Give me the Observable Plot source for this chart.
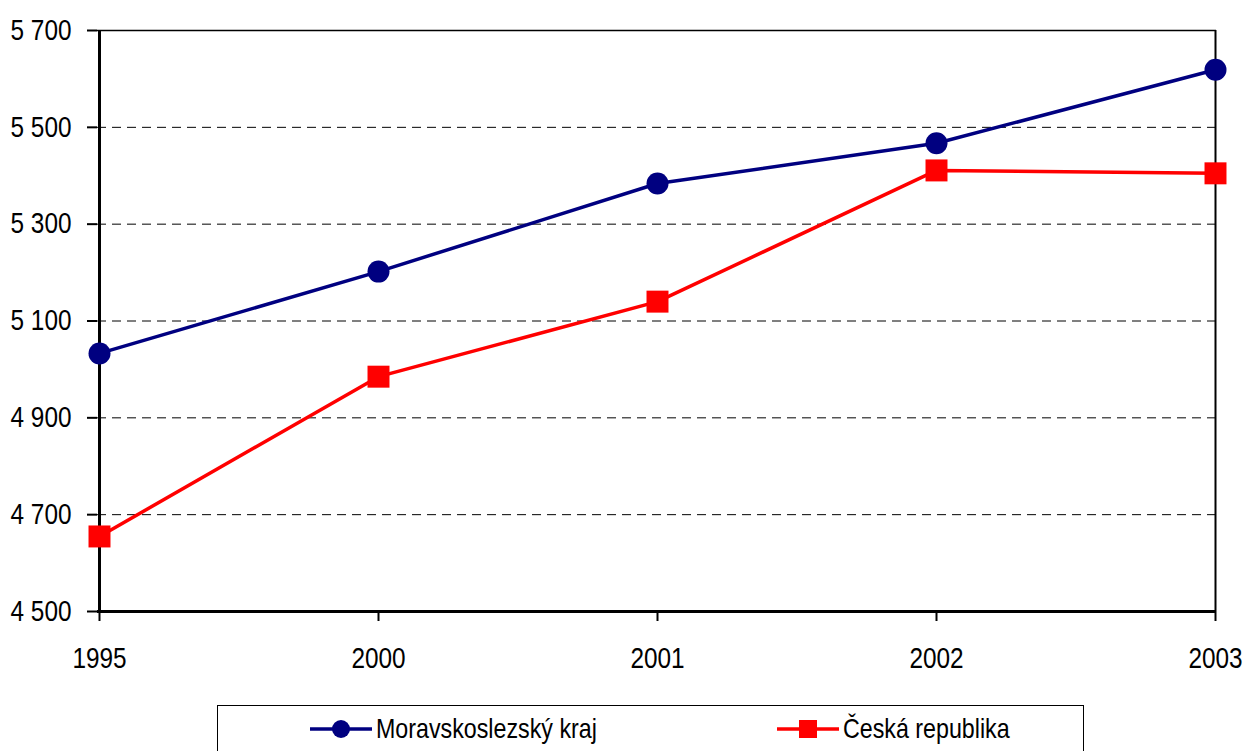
<!DOCTYPE html>
<html>
<head>
<meta charset="utf-8">
<script src="https://cdn.jsdelivr.net/npm/d3@7"></script>
<script src="https://cdn.jsdelivr.net/npm/@observablehq/plot@0.6"></script>
<style>
  html, body { margin: 0; padding: 0; background: #fff; overflow: hidden; }
  body { width: 1246px; height: 751px; position: relative;
         font-family: "Liberation Sans", Arial, sans-serif; }
  #legend { position: absolute; left: 217px; top: 705px; width: 867px; height: 60px;
            border: 1px solid #000; box-sizing: border-box; background: #fff; }
  .item { position: absolute; top: 7px; display: flex; align-items: center; font-size: 28px; color: #000; white-space: nowrap; }
  .item svg { margin-right: 4px; flex: none; }
  .item span { display: inline-block; transform: scaleX(0.83); transform-origin: left center; }
</style>
</head>
<body>
<div id="chart"></div>
<div id="legend"></div>
<script>
const years = ["1995", "2000", "2001", "2002", "2003"];
const moravskoslezsky = [5033, 5202, 5384, 5467, 5619];
const ceskaRepublika = [4655, 4985, 5140, 5411, 5405];
const seriesNames = ["Moravskoslezský kraj", "Česká republika"];
const seriesColors = ["#000080", "#FF0000"];
const yTicks = [4500, 4700, 4900, 5100, 5300, 5500, 5700];
const gridTicks = [4700, 4900, 5100, 5300, 5500];

const data = [
  ...years.map((y, i) => ({year: y, value: moravskoslezsky[i], series: seriesNames[0]})),
  ...years.map((y, i) => ({year: y, value: ceskaRepublika[i], series: seriesNames[1]}))
];
const fmt = v => d3.format(",")(v).replace(/,/g, " ");

const font = '"Liberation Sans", Arial, sans-serif';

const chart = Plot.plot({
  width: 1246,
  height: 690,
  marginLeft: 97,
  marginRight: 30,
  marginTop: 30,
  marginBottom: 79,
  style: {fontFamily: font, fontSize: "29px", color: "#000", background: "#fff", overflow: "visible"},
  x: {type: "point", domain: years, padding: 0, axis: null},
  y: {domain: [4500, 5700], axis: null},
  marks: [
    Plot.ruleY(gridTicks, {stroke: "#000", strokeWidth: 1, strokeDasharray: "9,6"}),
    Plot.ruleY([5700], {stroke: "#000", strokeWidth: 1.5}),
    Plot.ruleX([years[years.length - 1]], {stroke: "#000", strokeWidth: 2}),
    Plot.axisY(yTicks, {tickSize: 10, tickPadding: 16, tickFormat: fmt, label: null, stroke: "#000", strokeWidth: 2, fontSize: 29, fill: "#000", className: "narrowY"}),
    Plot.axisX(years, {tickSize: 10, tickPadding: 26, label: null, stroke: "#000", strokeWidth: 2, fontSize: 29, fill: "#000", className: "narrowX"}),
    Plot.ruleX([years[0]], {stroke: "#000", strokeWidth: 3}),
    Plot.ruleY([4500], {stroke: "#000", strokeWidth: 3}),
    Plot.line(data, {x: "year", y: "value", z: "series", stroke: d => d.series === seriesNames[0] ? seriesColors[0] : seriesColors[1], strokeWidth: 3.5}),
    Plot.dot(data.filter(d => d.series === seriesNames[0]), {x: "year", y: "value", r: 11, fill: seriesColors[0], stroke: "none", symbol: "circle"}),
    Plot.dot(data.filter(d => d.series === seriesNames[1]), {x: "year", y: "value", r: 12.4, fill: seriesColors[1], stroke: "none", symbol: "square"})
  ]
});
document.getElementById("chart").appendChild(chart);

// narrow the tick label glyphs (Arial Narrow look) around each label's anchor
chart.querySelectorAll(".narrowY text, .narrowX text").forEach(t => {
  const tr = t.getAttribute("transform") || "";
  const x = t.getAttribute("x");
  if (x != null) {
    t.setAttribute("transform", `${tr} translate(${x},0) scale(0.84,1)`);
    t.setAttribute("x", 0);
  } else {
    t.setAttribute("transform", `${tr} scale(0.84,1)`);
  }
});

// legend
const legend = document.getElementById("legend");
const lefts = [92, 559];
seriesNames.forEach((name, i) => {
  const item = document.createElement("div");
  item.className = "item";
  item.style.left = lefts[i] + "px";
  const marker = i === 0
    ? `<circle cx="31" cy="15" r="9" fill="${seriesColors[i]}"/>`
    : `<rect x="22" y="6" width="18" height="18" fill="${seriesColors[i]}"/>`;
  item.innerHTML = `<svg width="62" height="30"><line x1="0" x2="62" y1="15" y2="15" stroke="${seriesColors[i]}" stroke-width="3.5"/>${marker}</svg><span>${name}</span>`;
  legend.appendChild(item);
});
</script>
</body>
</html>
